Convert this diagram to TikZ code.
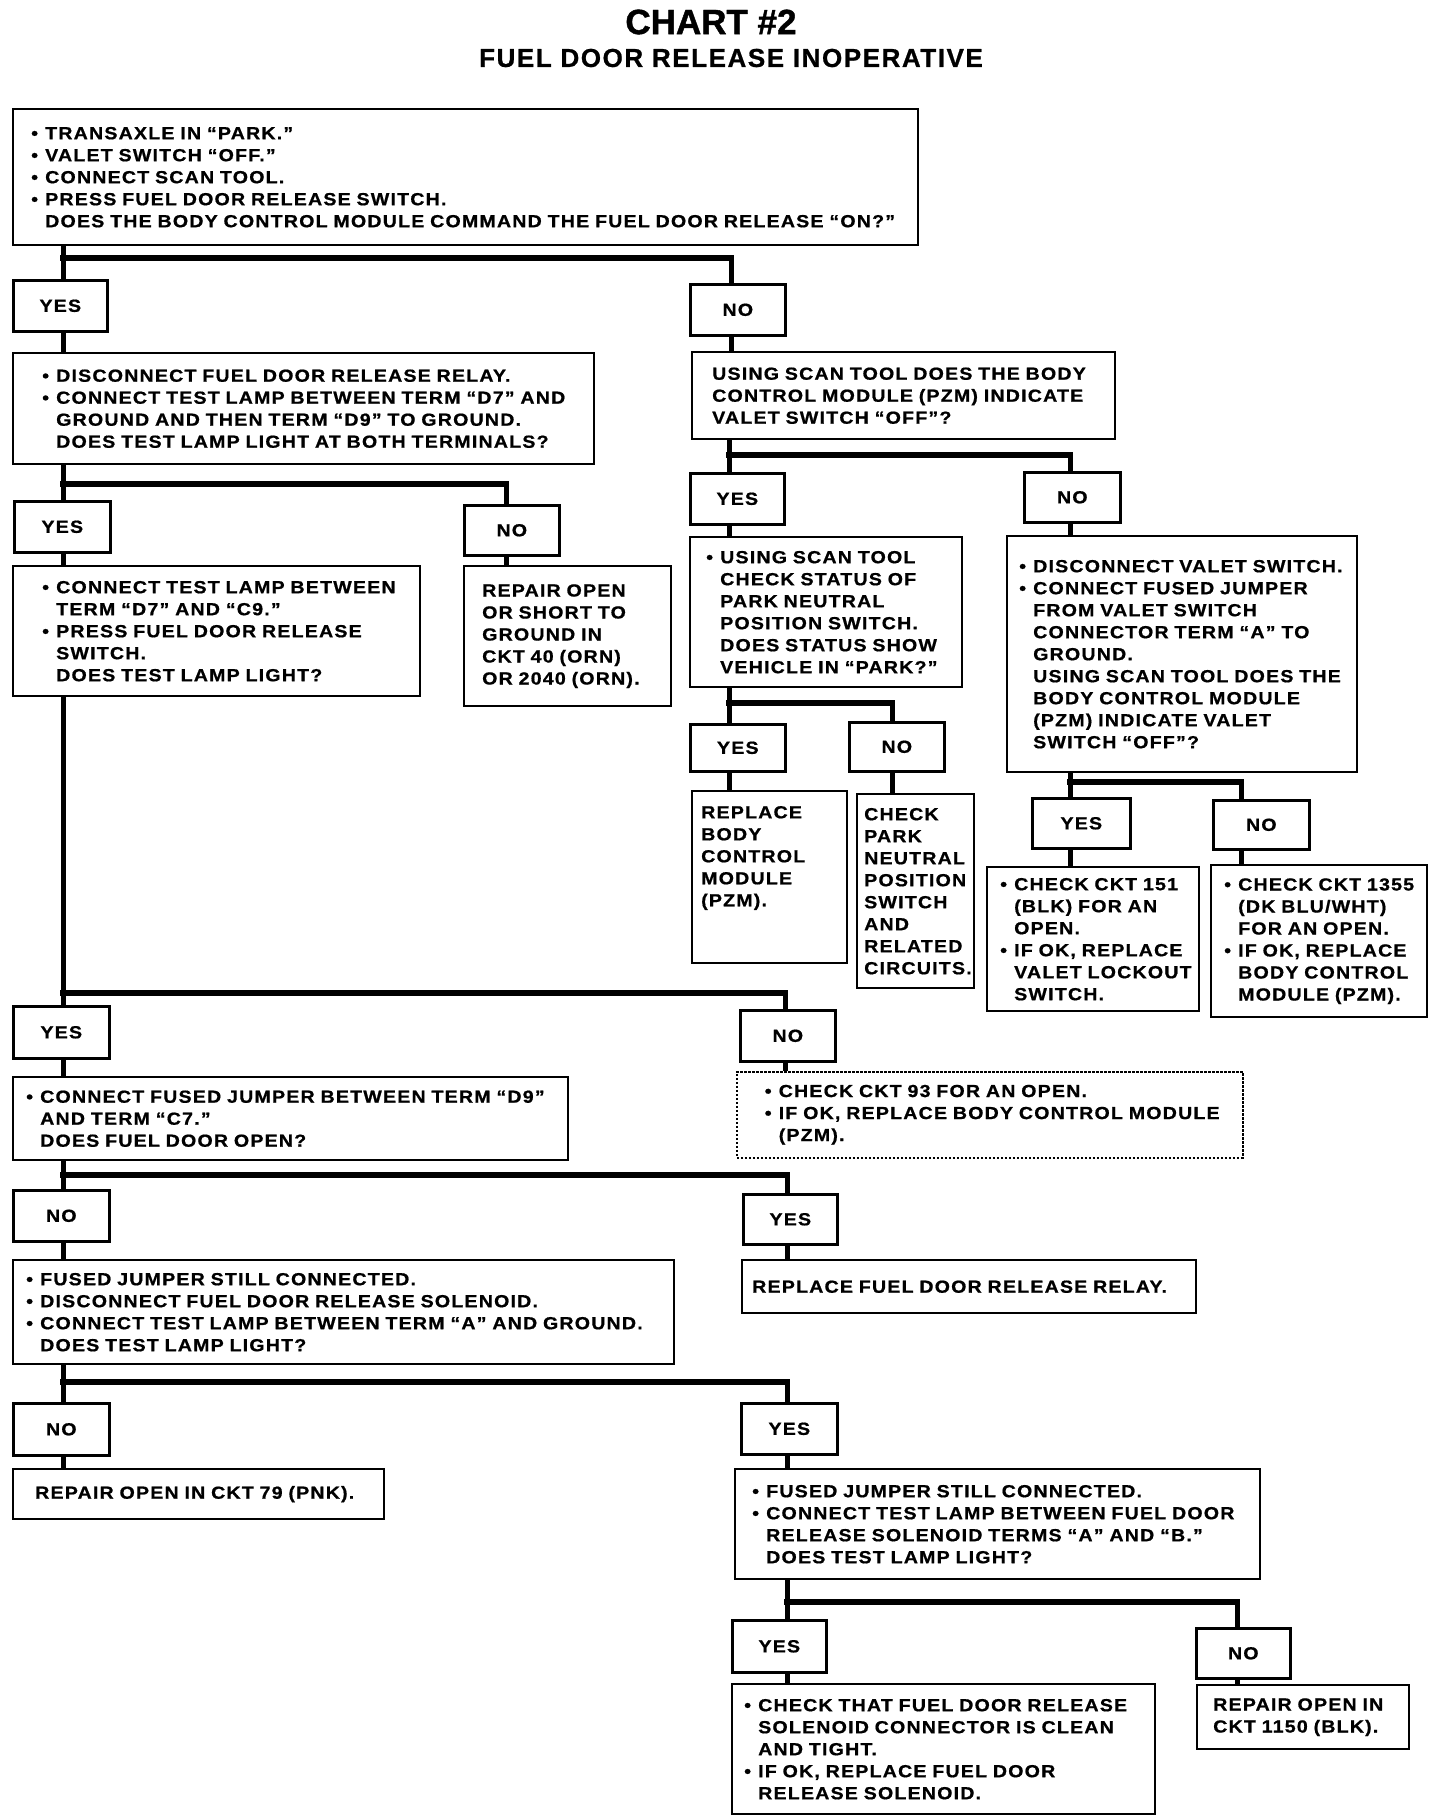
\documentclass[tikz,border=0pt]{standalone}
\usepackage{fontspec}
\newfontfamily\chartfont[LetterSpace=6.8,FakeStretch=1.12,WordSpace=1.5,FakeBold=0.8]{Liberation Sans}
\newfontfamily\titlefont[FakeBold=1.2]{Liberation Sans}
\newfontfamily\subfont[LetterSpace=6,FakeBold=0.8]{Liberation Sans}
\usetikzlibrary{calc}

% bullet lines, continued lines and plain lines of a box
\newlength\bulw
\setlength\bulw{14pt}
\newcommand{\bitem}[1]{\mbox{\makebox[\bulw][l]{\textbullet}#1}}
\newcommand{\citem}[1]{\mbox{\hspace*{\bulw}#1}}
\newcommand{\pitem}[1]{\mbox{#1}}

\begin{document}
\begin{tikzpicture}[x=1pt, y=-1pt,
  box/.style={draw, line width=2.4pt, anchor=north west, align=left, inner ysep=0pt,
    font=\chartfont\bfseries\fontsize{17.5pt}{22pt}\selectfont},
  dashbox/.style={box, line width=1.5pt, dash pattern=on 2.5pt off 1.5pt},
  lab/.style={draw, line width=2.6pt, anchor=north west, inner sep=0pt,
    minimum width=95pt, minimum height=50pt,
    font=\chartfont\bfseries\fontsize{17.5pt}{22pt}\selectfont},
  wire/.style={line width=5pt},
  bar/.style={line width=6pt, line cap=rect}]
\fill[white] (0,0) rectangle (1440,1820);
\useasboundingbox (0,0) rectangle (1440,1820);

% Title
\node[font=\titlefont\bfseries\fontsize{35pt}{40pt}\selectfont] (title) at (711,22) {CHART \#2};
\node[font=\subfont\bfseries\fontsize{26pt}{30pt}\selectfont] (subtitle) at (731,58) {FUEL DOOR RELEASE INOPERATIVE};

% Questions and repairs
\node[box, inner xsep=18pt, text width=869pt, minimum width=905pt, minimum height=136pt] (start) at (12,108) {%
  \bitem{TRANSAXLE IN “PARK.”}\\
  \bitem{VALET SWITCH “OFF.”}\\
  \bitem{CONNECT SCAN TOOL.}\\
  \bitem{PRESS FUEL DOOR RELEASE SWITCH.}\\
  \citem{DOES THE BODY CONTROL MODULE COMMAND THE FUEL DOOR RELEASE “ON?”}};

\node[box, inner xsep=29pt, text width=523pt, minimum width=581pt, minimum height=111pt] (relay) at (12,352) {%
  \bitem{DISCONNECT FUEL DOOR RELEASE RELAY.}\\
  \bitem{CONNECT TEST LAMP BETWEEN TERM “D7” AND}\\
  \citem{GROUND AND THEN TERM “D9” TO GROUND.}\\
  \citem{DOES TEST LAMP LIGHT AT BOTH TERMINALS?}};

\node[box, inner xsep=20pt, text width=383pt, minimum width=423pt, minimum height=87pt] (scan) at (691,351) {%
  \pitem{USING SCAN TOOL DOES THE BODY}\\
  \pitem{CONTROL MODULE (PZM) INDICATE}\\
  \pitem{VALET SWITCH “OFF”?}};

\node[box, inner xsep=29pt, text width=349pt, minimum width=407pt, minimum height=130pt] (lamp) at (12,565) {%
  \bitem{CONNECT TEST LAMP BETWEEN}\\
  \citem{TERM “D7” AND “C9.”}\\
  \bitem{PRESS FUEL DOOR RELEASE}\\
  \citem{SWITCH.}\\
  \citem{DOES TEST LAMP LIGHT?}};

\node[box, inner xsep=18pt, text width=171pt, minimum width=207pt, minimum height=140pt] (ckt40) at (463,565) {%
  \pitem{REPAIR OPEN}\\
  \pitem{OR SHORT TO}\\
  \pitem{GROUND IN}\\
  \pitem{CKT 40 (ORN)}\\
  \pitem{OR 2040 (ORN).}};

\node[box, inner xsep=16pt, text width=240pt, minimum width=272pt, minimum height=150pt] (park) at (689,536) {%
  \bitem{USING SCAN TOOL}\\
  \citem{CHECK STATUS OF}\\
  \citem{PARK NEUTRAL}\\
  \citem{POSITION SWITCH.}\\
  \citem{DOES STATUS SHOW}\\
  \citem{VEHICLE IN “PARK?”}};

\node[box, inner xsep=12pt, text width=326pt, minimum width=350pt, minimum height=236pt] (valet) at (1006,535) {%
  \bitem{DISCONNECT VALET SWITCH.}\\
  \bitem{CONNECT FUSED JUMPER}\\
  \citem{FROM VALET SWITCH}\\
  \citem{CONNECTOR TERM “A” TO}\\
  \citem{GROUND.}\\
  \citem{USING SCAN TOOL DOES THE}\\
  \citem{BODY CONTROL MODULE}\\
  \citem{(PZM) INDICATE VALET}\\
  \citem{SWITCH “OFF”?}};

\node[box, inner xsep=9pt, text width=137pt, minimum width=155pt, minimum height=172pt] (bcm) at (691,790) {%
  \pitem{REPLACE}\\
  \pitem{BODY}\\
  \pitem{CONTROL}\\
  \pitem{MODULE}\\
  \pitem{(PZM).}\\[20pt]
  \mbox{}};

\node[box, inner xsep=7pt, text width=103pt, minimum width=117pt, minimum height=194pt] (pnp) at (856,793) {%
  \pitem{CHECK}\\
  \pitem{PARK}\\
  \pitem{NEUTRAL}\\
  \pitem{POSITION}\\
  \pitem{SWITCH}\\
  \pitem{AND}\\
  \pitem{RELATED}\\
  \pitem{CIRCUITS.}};

\node[box, inner xsep=13pt, text width=186pt, minimum width=212pt, minimum height=144pt] (ckt151) at (986,866) {%
  \bitem{CHECK CKT 151}\\
  \citem{(BLK) FOR AN}\\
  \citem{OPEN.}\\
  \bitem{IF OK, REPLACE}\\
  \citem{VALET LOCKOUT}\\
  \citem{SWITCH.}};

\node[box, inner xsep=13pt, text width=190pt, minimum width=216pt, minimum height=152pt] (ckt1355) at (1210,864) {%
  \bitem{CHECK CKT 1355}\\
  \citem{(DK BLU/WHT)}\\
  \citem{FOR AN OPEN.}\\
  \bitem{IF OK, REPLACE}\\
  \citem{BODY CONTROL}\\
  \citem{MODULE (PZM).}};

\node[box, inner xsep=13pt, text width=529pt, minimum width=555pt, minimum height=83pt] (jumper) at (12,1076) {%
  \bitem{CONNECT FUSED JUMPER BETWEEN TERM “D9”}\\
  \citem{AND TERM “C7.”}\\
  \citem{DOES FUEL DOOR OPEN?}};

\node[dashbox, inner xsep=28pt, text width=450pt, minimum width=506pt, minimum height=86pt] (ckt93) at (736,1071) {%
  \bitem{CHECK CKT 93 FOR AN OPEN.}\\
  \bitem{IF OK, REPLACE BODY CONTROL MODULE}\\
  \citem{(PZM).}};

\node[box, inner xsep=13pt, text width=635pt, minimum width=661pt, minimum height=104pt] (solenoid) at (12,1259) {%
  \bitem{FUSED JUMPER STILL CONNECTED.}\\
  \bitem{DISCONNECT FUEL DOOR RELEASE SOLENOID.}\\
  \bitem{CONNECT TEST LAMP BETWEEN TERM “A” AND GROUND.}\\
  \citem{DOES TEST LAMP LIGHT?}};

\node[box, inner xsep=10pt, text width=434pt, minimum width=454pt, minimum height=53pt] (relayok) at (741,1259) {%
  \pitem{REPLACE FUEL DOOR RELEASE RELAY.}};

\node[box, inner xsep=22pt, text width=327pt, minimum width=371pt, minimum height=50pt] (ckt79) at (12,1468) {%
  \pitem{REPAIR OPEN IN CKT 79 (PNK).}};

\node[box, inner xsep=17pt, text width=491pt, minimum width=525pt, minimum height=110pt] (terms) at (734,1468) {%
  \bitem{FUSED JUMPER STILL CONNECTED.}\\
  \bitem{CONNECT TEST LAMP BETWEEN FUEL DOOR}\\
  \citem{RELEASE SOLENOID TERMS “A” AND “B.”}\\
  \citem{DOES TEST LAMP LIGHT?}};

\node[box, inner xsep=12pt, text width=399pt, minimum width=423pt, minimum height=130pt] (clean) at (731,1683) {%
  \bitem{CHECK THAT FUEL DOOR RELEASE}\\
  \citem{SOLENOID CONNECTOR IS CLEAN}\\
  \citem{AND TIGHT.}\\
  \bitem{IF OK, REPLACE FUEL DOOR}\\
  \citem{RELEASE SOLENOID.}};

\node[box, inner xsep=16pt, text width=180pt, minimum width=212pt, minimum height=64pt] (ckt1150) at (1196,1684) {%
  \pitem{REPAIR OPEN IN}\\
  \pitem{CKT 1150 (BLK).}};

% Yes / no answers
\node[lab, minimum width=94pt, minimum height=51pt] (y1) at (12,279) {YES};
\node[lab, minimum height=51pt] (n1) at (689,283) {NO};
\node[lab, minimum width=96pt, minimum height=51pt] (y2) at (13,500) {YES};
\node[lab] (n2) at (463,504) {NO};
\node[lab, minimum width=94pt, minimum height=51pt] (y3) at (689,472) {YES};
\node[lab, minimum width=96pt] (n3) at (1023,471) {NO};
\node[lab, minimum height=47pt] (y4) at (689,723) {YES};
\node[lab, minimum height=49pt] (n4) at (848,721) {NO};
\node[lab, minimum width=98pt] (y5) at (1031,797) {YES};
\node[lab, minimum width=96pt, minimum height=49pt] (n5) at (1212,799) {NO};
\node[lab, minimum width=96pt, minimum height=52pt] (y6) at (12,1005) {YES};
\node[lab, minimum height=51pt] (n6) at (739,1009) {NO};
\node[lab, minimum width=96pt, minimum height=51pt] (n7) at (12,1189) {NO};
\node[lab, minimum width=94pt] (y7) at (742,1193) {YES};
\node[lab, minimum width=96pt, minimum height=52pt] (n8) at (12,1402) {NO};
\node[lab, minimum width=96pt, minimum height=51pt] (y8) at (740,1402) {YES};
\node[lab, minimum width=94pt, minimum height=52pt] (y9) at (731,1619) {YES};
\node[lab, minimum width=94pt] (n9) at (1195,1627) {NO};

% Branch points
\coordinate (jA) at (63,258);    \coordinate (jAr) at (731,258);
\coordinate (jB) at (63,484);    \coordinate (jBr) at (506,484);
\coordinate (jC) at (729,455);   \coordinate (jCr) at (1070,455);
\coordinate (jF) at (729,703);   \coordinate (jFr) at (892,703);
\coordinate (jG) at (1070,782);  \coordinate (jGr) at (1241,782);
\coordinate (jD) at (63,993);    \coordinate (jDr) at (785,993);
\coordinate (jL) at (63,1175);   \coordinate (jLr) at (787,1175);
\coordinate (jN) at (63,1382);   \coordinate (jNr) at (787,1382);
\coordinate (jQ) at (787,1602);  \coordinate (jQr) at (1237,1602);

% Connectors
\foreach \pa/\ja/\jb/\la/\lb/\ka/\kb in {start/jA/jAr/y1/n1/relay/scan,
    relay/jB/jBr/y2/n2/lamp/ckt40, scan/jC/jCr/y3/n3/park/valet,
    park/jF/jFr/y4/n4/bcm/pnp, valet/jG/jGr/y5/n5/ckt151/ckt1355,
    lamp/jD/jDr/y6/n6/jumper/ckt93, jumper/jL/jLr/n7/y7/solenoid/relayok,
    solenoid/jN/jNr/n8/y8/ckt79/terms, terms/jQ/jQr/y9/n9/clean/ckt1150} {
  \draw[wire] (\pa.south -| \ja) -- (\la.north -| \ja);
  \draw[bar] (\ja) -- (\jb);
  \draw[wire] (\jb) -- (\lb.north -| \jb);
  \draw[wire] (\la.south -| \ja) -- (\ka.north -| \ja);
  \draw[wire] (\lb.south -| \jb) -- (\kb.north -| \jb);
}
\end{tikzpicture}
\end{document}
